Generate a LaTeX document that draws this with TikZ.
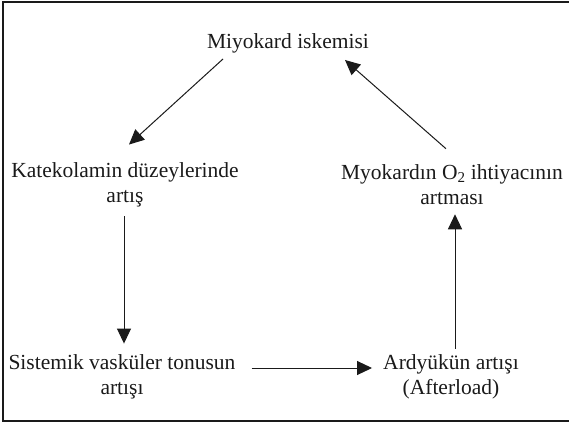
\documentclass[tikz,border=0pt]{standalone}
\usepackage{fontspec}
\setmainfont{Liberation Serif}
\usepackage{tikz}
\usetikzlibrary{arrows.meta}
\definecolor{CycleInk}{HTML}{1A1A1A}

\begin{document}
\begin{tikzpicture}[x=1pt,y=-1pt,>={Triangle[length=15pt,width=14pt]},
    font=\fontsize{21.5}{25}\selectfont,
    stage/.style={align=center,inner sep=0pt,text=CycleInk},
    link/.style={->,line width=1pt,CycleInk}]
  \useasboundingbox (0,0) rectangle (569,425);
  \draw[line width=1.6pt,CycleInk] (569,2)--(3,2)--(3,421)--(569,421);
  \node[stage] (isk) at (288,43) {Miyokard iskemisi};
  \node[stage] (kat) at (125,185) {Katekolamin düzeylerinde\\artış};
  \node[stage] (myo) at (452,185) {Myokardın O\textsubscript{2} ihtiyacının\\artması};
  \node[stage] (sis) at (122,377) {Sistemik vasküler tonusun\\artışı};
  \node[stage] (ard) at (451,377) {Ardyükün artışı\\(Afterload)};
  \draw[link] ([xshift=-65pt,yshift=-6pt]isk.south)--([xshift=4pt,yshift=18pt]kat.north);
  \draw[link] ([xshift=-1pt,yshift=-9pt]kat.south)--([xshift=2pt,yshift=11pt]sis.north);
  \draw[link] ([xshift=16pt,yshift=9pt]sis.east)--([xshift=-11pt,yshift=9pt]ard.west);
  \draw[link] ([xshift=4pt,yshift=6pt]ard.north)--([xshift=3pt,yshift=-9pt]myo.south);
  \draw[link] ([xshift=-6pt,yshift=16pt]myo.north)--([xshift=57pt,yshift=-7pt]isk.south);
\end{tikzpicture}
\end{document}
